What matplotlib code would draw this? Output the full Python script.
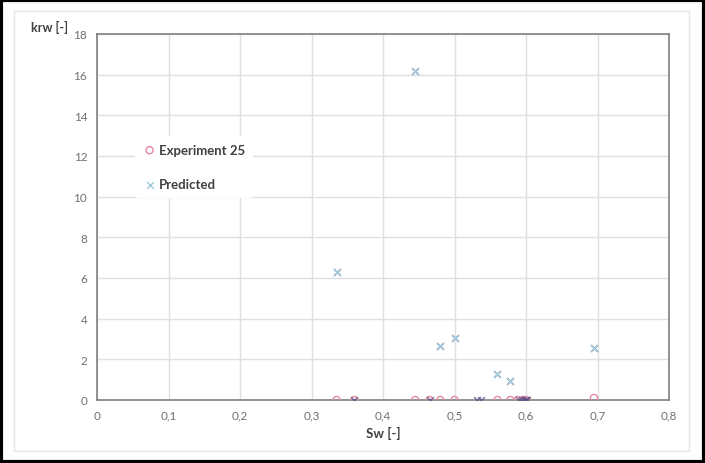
import numpy as np
import matplotlib.pyplot as plt
from matplotlib.patches import Rectangle
from matplotlib.ticker import FuncFormatter

plt.rcParams['font.family'] = ['Lato', 'DejaVu Sans']

# Experiment 25 data (krw vs Sw)
exp_sw = [0.335, 0.36, 0.445, 0.465, 0.48, 0.50, 0.56, 0.578, 0.588, 0.595, 0.60, 0.695]
exp_krw = [0.0, 0.0, 0.0, 0.0, 0.0, 0.0, 0.0, 0.0, 0.0, 0.0, 0.0, 0.1]

# Predicted krw
pred_sw = [0.335, 0.445, 0.48, 0.50, 0.56, 0.578, 0.695,
           0.36, 0.465, 0.532, 0.537, 0.59, 0.595, 0.598, 0.60, 0.602]
pred_krw = [6.3, 16.2, 2.65, 3.05, 1.3, 0.95, 2.55,
            0.0, 0.0, 0.0, 0.0, 0.0, 0.0, 0.0, 0.0, 0.0]

fig = plt.figure(figsize=(7.05, 4.64), dpi=100)
ax = fig.add_axes([0.1376, 0.1358, 0.8114, 0.7888])

# chart frame
fig.patches.append(Rectangle((0.002, 0.003), 0.996, 0.994, transform=fig.transFigure,
                             fill=False, edgecolor='black', linewidth=3))
fig.patches.append(Rectangle((0.02, 0.026), 0.958, 0.948, transform=fig.transFigure,
                             fill=False, edgecolor='#e6e6e6', linewidth=1))

ax.scatter(exp_sw, exp_krw, marker='o', s=26, facecolors='none',
           edgecolors='#e48aa2', linewidths=1.0, label='Experiment 25', zorder=3)
ax.scatter(pred_sw, pred_krw, marker='x', s=24, color='#5f5288', alpha=0.8,
           linewidths=1.1, zorder=4)
ax.scatter([], [], marker='x', s=24, color='#a3cbdb', linewidths=1.0, label='Predicted')
# the non-zero predicted points in light blue
ax.scatter(pred_sw[:7], pred_krw[:7], marker='x', s=24, color='#a3cbdb',
           linewidths=1.0, zorder=5)

ax.set_xlim(0, 0.8)
ax.set_ylim(0, 18)
ax.set_xticks(np.arange(0, 0.81, 0.1))
ax.set_yticks(np.arange(0, 19, 2))
ax.xaxis.set_major_formatter(FuncFormatter(lambda v, p: '0' if abs(v) < 1e-9 else ('%.1f' % v).replace('.', ',')))
ax.grid(True, color='#e0e0e0', linewidth=1)
ax.set_axisbelow(True)
ax.tick_params(length=0, labelsize=8.5, colors='#707070', pad=7)
for s in ax.spines.values():
    s.set_color('#808080')
    s.set_linewidth(1.2)

ax.set_xlabel('Sw [-]', fontsize=9.5, fontweight='bold', color='#404040', labelpad=4)
fig.text(0.044, 0.94, 'krw [-]', fontsize=9, fontweight='bold', color='#404040',
         ha='left', va='center')

leg = ax.legend(loc='upper left', bbox_to_anchor=(0.055, 0.74), frameon=True,
                fontsize=9.5, handletextpad=0.2, labelspacing=1.7,
                borderpad=0.6, handlelength=1.0)
leg.get_frame().set_edgecolor('none')
leg.get_frame().set_facecolor('white')
leg.get_frame().set_alpha(1)
for t in leg.get_texts():
    t.set_color('#404040')
    t.set_fontweight('bold')

fig.savefig('out.png', dpi=100)
